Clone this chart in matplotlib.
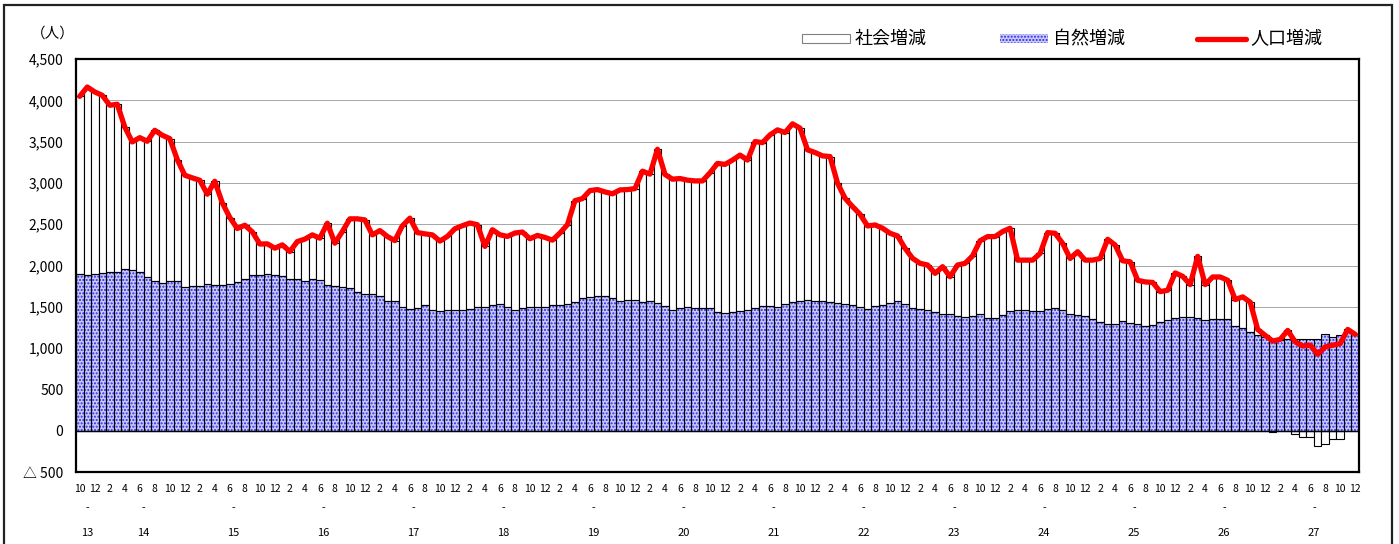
import matplotlib
matplotlib.use('Agg')
import matplotlib.pyplot as plt
from matplotlib.patches import Rectangle
from matplotlib.lines import Line2D
import numpy as np

plt.rcParams['font.family'] = ['Noto Sans CJK JP', 'DejaVu Sans']
plt.rcParams['hatch.linewidth'] = 1.0

# ---- data (monthly, Oct H13 .. Dec H27) ----
natural = [  # 自然増減
    1903, 1891, 1903, 1911, 1923, 1923, 1952, 1940, 1923, 1859,
    1815, 1794, 1811, 1811, 1738, 1754, 1746, 1782, 1758, 1762,
    1770, 1798, 1835, 1879, 1889, 1895, 1879, 1875, 1835, 1835,
    1811, 1831, 1823, 1766, 1746, 1738, 1722, 1677, 1661, 1661,
    1633, 1573, 1569, 1492, 1476, 1488, 1516, 1460, 1450, 1457,
    1457, 1465, 1473, 1493, 1493, 1518, 1530, 1498, 1461, 1485,
    1493, 1493, 1493, 1522, 1522, 1534, 1558, 1603, 1619, 1635,
    1627, 1603, 1570, 1581, 1577, 1561, 1573, 1545, 1504, 1467,
    1480, 1492, 1488, 1480, 1480, 1431, 1419, 1443, 1455, 1459,
    1488, 1504, 1504, 1492, 1528, 1561, 1570, 1586, 1574, 1574,
    1562, 1550, 1533, 1525, 1501, 1477, 1513, 1525, 1550, 1570,
    1537, 1489, 1469, 1461, 1437, 1416, 1416, 1388, 1372, 1392,
    1410, 1362, 1362, 1398, 1447, 1459, 1459, 1451, 1451, 1476,
    1488, 1463, 1410, 1406, 1394, 1349, 1317, 1288, 1288, 1329,
    1305, 1288, 1270, 1275, 1320, 1339, 1367, 1371, 1379, 1367,
    1335, 1351, 1351, 1351, 1266, 1242, 1198, 1158, 1138, 1106,
    1097, 1106, 1114, 1106, 1114, 1114, 1170, 1138, 1154, 1194,
    1166,
]
total = [  # 人口増減
    4048, 4161, 4101, 4060, 3940, 3952, 3677, 3496, 3548, 3504,
    3637, 3577, 3536, 3282, 3093, 3061, 3032, 2863, 3020, 2758,
    2581, 2448, 2488, 2407, 2260, 2262, 2210, 2250, 2169, 2290,
    2319, 2371, 2331, 2512, 2270, 2411, 2565, 2565, 2552, 2371,
    2423, 2351, 2302, 2480, 2573, 2399, 2383, 2371, 2296, 2352,
    2445, 2482, 2514, 2494, 2231, 2433, 2372, 2352, 2393, 2405,
    2324, 2364, 2340, 2307, 2393, 2494, 2785, 2810, 2907, 2919,
    2891, 2868, 2915, 2919, 2931, 3142, 3106, 3407, 3102, 3045,
    3053, 3033, 3024, 3024, 3122, 3236, 3224, 3276, 3337, 3276,
    3500, 3488, 3581, 3642, 3610, 3715, 3663, 3400, 3368, 3327,
    3319, 2996, 2814, 2713, 2620, 2479, 2491, 2451, 2390, 2358,
    2208, 2087, 2026, 2006, 1905, 1986, 1865, 2006, 2026, 2117,
    2300, 2350, 2350, 2411, 2451, 2065, 2065, 2065, 2146, 2398,
    2390, 2268, 2085, 2167, 2065, 2065, 2085, 2317, 2248, 2057,
    2045, 1821, 1801, 1795, 1684, 1700, 1910, 1869, 1769, 2111,
    1769, 1861, 1861, 1821, 1588, 1620, 1556, 1226, 1154, 1085,
    1106, 1214, 1075, 1025, 1035, 925, 1015, 1035, 1055, 1226,
    1166,
]
first_month = 10
year_labels = ['13', '14', '15', '16', '17', '18', '19', '20',
               '21', '22', '23', '24', '25', '26', '27']
series_names = ['社会増減', '自然増減', '人口増減']
unit_label = '（人）'

# ---- derived ----
n = len(natural)
x = np.arange(n)
nat = np.array(natural, dtype=float)
tot = np.array(total, dtype=float)
social = tot - nat
soc_bottom = np.where(social >= 0, nat, 0)
months = [(first_month - 1 + i) % 12 + 1 for i in range(n)]

W, H = 1399, 544
fig = plt.figure(figsize=(W / 100, H / 100), dpi=100)
fig.patch.set_facecolor('white')

def fx(px):
    return px / W

def fy(py):
    return 1 - py / H

ax = fig.add_axes([fx(76), fy(472), (1359 - 76) / W, (472 - 59) / H])
ax.set_xlim(-0.5, n - 0.5)
ax.set_ylim(-500, 4500)

# grid
for v in range(500, 4501, 500):
    ax.axhline(v, color='#a6a6a6', lw=0.7, zorder=0.5)

NAT_FACE = '#cacaf8'
NAT_DOT = '#2a2af0'
HATCH = '.....'
# natural bars: fill + dots, then outline
ax.bar(x, nat, width=1.0, color=NAT_FACE, edgecolor=NAT_DOT, linewidth=0,
       hatch=HATCH, zorder=2)
ax.bar(x, nat, width=1.0, fill=False, edgecolor='black', linewidth=0.8,
       zorder=2.2)
# social bars
ax.bar(x, social, bottom=soc_bottom, width=1.0, color='white',
       edgecolor='black', linewidth=0.8, zorder=2.1)

ax.axhline(0, color='black', lw=1.0, zorder=3)

ax.plot(x, tot, color='#ff0000', lw=3.8, solid_joinstyle='round',
        solid_capstyle='round', zorder=5)

for s in ax.spines.values():
    s.set_linewidth(1.6)
    s.set_color('black')
    s.set_zorder(6)

yt = list(range(-500, 4501, 500))
ax.set_yticks(yt)
ax.set_yticklabels(['△ 500' if v < 0 else f'{v:,}' for v in yt], fontsize=10)
ax.tick_params(axis='y', length=0, pad=9)

ax.set_xticks(x[::2])
ax.set_xticklabels([str(m) for m in months[::2]], fontsize=7.5)
ax.tick_params(axis='x', length=0, pad=9)

# year labels
xt = ax.get_xaxis_transform()
first_year_len = 12 - first_month + 1
for k, yl in enumerate(year_labels):
    if k == 0:
        c = (first_year_len - 1) / 2
    else:
        s0 = first_year_len + 12 * (k - 1)
        c = s0 + 5.5
    ax.text(c, -0.087, '-', transform=xt, ha='center', va='center',
            fontsize=7.5)
    ax.text(c, -0.148, yl, transform=xt, ha='center', va='center',
            fontsize=8)

fig.text(fx(53), fy(34), unit_label, ha='center', va='center', fontsize=10.5)

# legend (manual)
fig.add_artist(Rectangle((fx(802), fy(43)), fx(850) - fx(802), fy(34) - fy(43),
                         transform=fig.transFigure, facecolor='white',
                         edgecolor='#808080', lw=0.8))
fig.text(fx(855), fy(39), series_names[0], ha='left', va='center', fontsize=13)
fig.add_artist(Rectangle((fx(1000), fy(43)), fx(1048) - fx(1000), fy(34) - fy(43),
                         transform=fig.transFigure, facecolor=NAT_FACE,
                         edgecolor=NAT_DOT, lw=0, hatch=HATCH))
fig.text(fx(1053), fy(39), series_names[1], ha='left', va='center', fontsize=13)
fig.add_artist(Line2D([fx(1197), fx(1246)], [fy(39), fy(39)],
                      transform=fig.transFigure, color='#ff0000', lw=3.8,
                      solid_capstyle='round'))
fig.text(fx(1250), fy(39), series_names[2], ha='left', va='center', fontsize=13)

# outer frame
fig.add_artist(Rectangle((fx(4), fy(620)), fx(1392) - fx(4), fy(5) - fy(620),
                         transform=fig.transFigure, fill=False,
                         edgecolor='#222222', lw=1.6, clip_on=False))

fig.savefig('out.png', dpi=100)
